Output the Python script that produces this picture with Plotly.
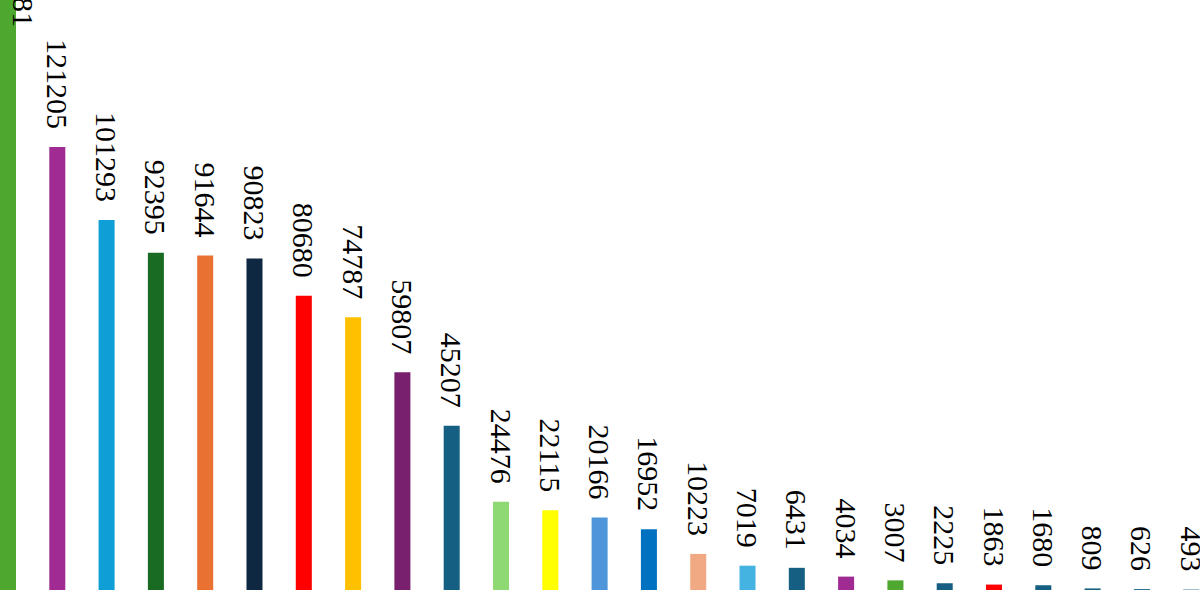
import plotly.graph_objects as go

# bar values, left to right (first bar runs off the top of the view)
categories = [f"c{i+1}" for i in range(25)]
values = [163481, 121205, 101293, 92395, 91644, 90823, 80680, 74787, 59807,
          45207, 24476, 22115, 20166, 16952, 10223, 7019, 6431, 4034, 3007,
          2225, 1863, 1680, 809, 626, 493]
bar_colors = ["#4EA72E", "#A02B93", "#0F9ED5", "#196B24", "#E97132", "#0E2841",
              "#FF0000", "#FFC000", "#78206E", "#156082", "#8ED973", "#FFFF00",
              "#4E95D9", "#0070C0", "#F1A983", "#44B3E1", "#156082", "#A02B93",
              "#4EA72E", "#156082", "#FF0000", "#156082", "#156082", "#156082",
              "#156082"]

serif = "Liberation Serif"
label_font = dict(family=serif, size=30, color="black")
pad = "\u00a0\u00a0"  # keeps the labels clear of the bar tops

labels = [f"{v}{pad}" for v in values]
labels[0] = ""  # first bar is taller than the view, its label is placed below

fig = go.Figure()
fig.add_trace(go.Bar(
    x=categories, y=values,
    marker=dict(color=bar_colors, line=dict(width=0)),
    text=labels,
    textposition='outside',
    textangle=90,
    constraintext='none',
    cliponaxis=False,
    textfont=label_font,
    outsidetextfont=label_font,
    hoverinfo='x+y',
))

# label of the first (clipped) bar, only its tail shows at the top edge
fig.add_annotation(
    x=categories[0], xref='x', y=1, yref='paper',
    text=str(values[0]), textangle=90, showarrow=False,
    xanchor='center', yanchor='bottom', xshift=16, yshift=-29,
    font=label_font,
)

fig.update_layout(
    width=1200, height=590,
    margin=dict(l=0, r=0, t=0, b=0),
    font=dict(family=serif, color="black"),
    plot_bgcolor="white", paper_bgcolor="white",
    bargap=0.675,
    showlegend=False,
    xaxis=dict(visible=False, range=[-0.162, 24.178]),
    yaxis=dict(visible=False, range=[382, 161320]),
)

fig.write_html("out.html", config={"displayModeBar": False},
               post_script="document.body.style.margin='0';")
